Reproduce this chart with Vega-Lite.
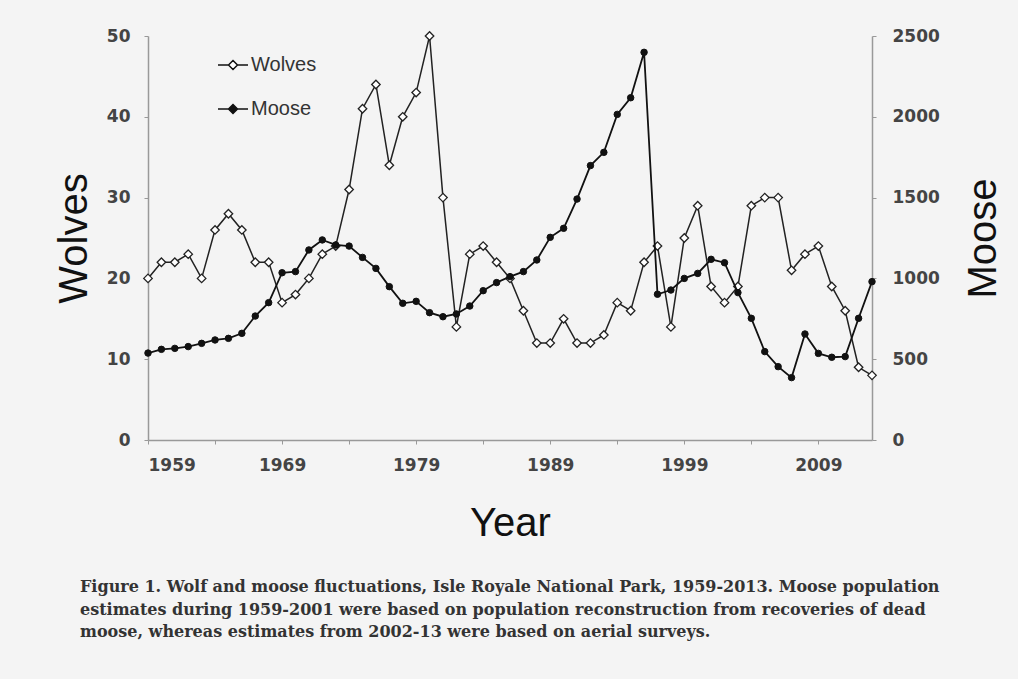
{
  "$schema": "https://vega.github.io/schema/vega-lite/v6.json",
  "autosize": {"type": "none"},
  "width": 724,
  "height": 404,
  "padding": {"left": 148, "top": 36, "right": 146, "bottom": 239},
  "background": "#f4f4f4",
  "config": {
    "view": {"stroke": null},
    "axis": {
      "domainColor": "#999999",
      "domainWidth": 1.5,
      "tickColor": "#999999",
      "tickSize": 4,
      "grid": false,
      "labelFont": "DejaVu Sans",
      "labelFontWeight": "bold",
      "labelFontSize": 17,
      "labelColor": "#444444",
      "titleFont": "Liberation Sans",
      "titleFontWeight": "normal",
      "titleFontSize": 40,
      "titleColor": "#111111"
    }
  },
  "title": {
    "text": [
      "Figure 1. Wolf and moose fluctuations, Isle Royale National Park, 1959-2013. Moose population",
      "estimates during 1959-2001 were based on population reconstruction from recoveries of dead",
      "moose, whereas estimates from 2002-13 were based on aerial surveys."
    ],
    "orient": "bottom",
    "anchor": "start",
    "frame": "group",
    "dx": -68,
    "offset": 36,
    "font": "DejaVu Serif",
    "fontSize": 16,
    "fontWeight": "bold",
    "color": "#333333",
    "lineHeight": 22.5
  },
  "data": {
    "values": [
      {"year": 1959, "wolves": 20, "moose": 538},
      {"year": 1960, "wolves": 22, "moose": 561},
      {"year": 1961, "wolves": 22, "moose": 567},
      {"year": 1962, "wolves": 23, "moose": 578},
      {"year": 1963, "wolves": 20, "moose": 598},
      {"year": 1964, "wolves": 26, "moose": 619},
      {"year": 1965, "wolves": 28, "moose": 629},
      {"year": 1966, "wolves": 26, "moose": 660},
      {"year": 1967, "wolves": 22, "moose": 767},
      {"year": 1968, "wolves": 22, "moose": 850},
      {"year": 1969, "wolves": 17, "moose": 1035},
      {"year": 1970, "wolves": 18, "moose": 1042},
      {"year": 1971, "wolves": 20, "moose": 1176},
      {"year": 1972, "wolves": 23, "moose": 1238},
      {"year": 1973, "wolves": 24, "moose": 1207},
      {"year": 1974, "wolves": 31, "moose": 1200},
      {"year": 1975, "wolves": 41, "moose": 1130},
      {"year": 1976, "wolves": 44, "moose": 1062},
      {"year": 1977, "wolves": 34, "moose": 949},
      {"year": 1978, "wolves": 40, "moose": 846},
      {"year": 1979, "wolves": 43, "moose": 858},
      {"year": 1980, "wolves": 50, "moose": 788},
      {"year": 1981, "wolves": 30, "moose": 763},
      {"year": 1982, "wolves": 14, "moose": 780},
      {"year": 1983, "wolves": 23, "moose": 829},
      {"year": 1984, "wolves": 24, "moose": 924},
      {"year": 1985, "wolves": 22, "moose": 974},
      {"year": 1986, "wolves": 20, "moose": 1011},
      {"year": 1987, "wolves": 16, "moose": 1042},
      {"year": 1988, "wolves": 12, "moose": 1114},
      {"year": 1989, "wolves": 12, "moose": 1254},
      {"year": 1990, "wolves": 15, "moose": 1310},
      {"year": 1991, "wolves": 12, "moose": 1491},
      {"year": 1992, "wolves": 12, "moose": 1698},
      {"year": 1993, "wolves": 13, "moose": 1780},
      {"year": 1994, "wolves": 17, "moose": 2015},
      {"year": 1995, "wolves": 16, "moose": 2118},
      {"year": 1996, "wolves": 22, "moose": 2399},
      {"year": 1997, "wolves": 24, "moose": 902},
      {"year": 1998, "wolves": 14, "moose": 928},
      {"year": 1999, "wolves": 25, "moose": 1000},
      {"year": 2000, "wolves": 29, "moose": 1031},
      {"year": 2001, "wolves": 19, "moose": 1118},
      {"year": 2002, "wolves": 17, "moose": 1097},
      {"year": 2003, "wolves": 19, "moose": 912},
      {"year": 2004, "wolves": 29, "moose": 753},
      {"year": 2005, "wolves": 30, "moose": 547},
      {"year": 2006, "wolves": 30, "moose": 454},
      {"year": 2007, "wolves": 21, "moose": 386},
      {"year": 2008, "wolves": 23, "moose": 656},
      {"year": 2009, "wolves": 24, "moose": 536},
      {"year": 2010, "wolves": 19, "moose": 512},
      {"year": 2011, "wolves": 16, "moose": 516},
      {"year": 2012, "wolves": 9, "moose": 753},
      {"year": 2013, "wolves": 8, "moose": 980}
    ]
  },
  "encoding": {
    "x": {
      "field": "year",
      "type": "quantitative",
      "scale": {"domain": [1959, 2013], "nice": false, "zero": false},
      "axis": {
        "values": [1959, 1964, 1969, 1974, 1979, 1984, 1989, 1994, 1999, 2004, 2009],
        "labelExpr": "(datum.value - 1959) % 10 == 0 ? datum.value + '' : ''",
        "labelPadding": 13,
        "title": "Year",
        "titlePadding": 30
      }
    }
  },
  "layer": [
    {
      "encoding": {
        "y": {
          "field": "wolves",
          "type": "quantitative",
          "scale": {"domain": [0, 50], "nice": false},
          "axis": {
            "orient": "left",
            "values": [0, 10, 20, 30, 40, 50],
            "labelPadding": 14,
            "title": "Wolves",
            "titlePadding": 12
          }
        }
      },
      "layer": [
        {"mark": {"type": "line", "color": "#222222", "strokeWidth": 1.5}},
        {
          "mark": {"type": "point", "shape": "diamond", "size": 72, "stroke": "#222222", "strokeWidth": 1.3, "opacity": 1},
          "encoding": {
            "fill": {
              "datum": "Wolves",
              "scale": {"domain": ["Wolves", "Moose"], "range": ["#ffffff", "#111111"]},
              "legend": {
                "title": null,
                "orient": "none",
                "legendX": 69,
                "legendY": 13,
                "padding": 0,
                "symbolType": "M-1,0L-0.3,0M0.3,0L1,0M0,-0.3L0.3,0L0,0.3L-0.3,0Z",
                "symbolSize": 900,
                "symbolStrokeColor": "#222222",
                "symbolStrokeWidth": 1.5,
                "symbolOpacity": 1,
                "labelFont": "Liberation Sans",
                "labelFontSize": 20,
                "labelColor": "#333333",
                "labelOffset": 2,
                "rowPadding": 18
              }
            }
          }
        }
      ]
    },
    {
      "encoding": {
        "y": {
          "field": "moose",
          "type": "quantitative",
          "scale": {"domain": [0, 2500], "nice": false},
          "axis": {
            "orient": "right",
            "values": [0, 500, 1000, 1500, 2000, 2500],
            "format": "d",
            "labelPadding": 16,
            "title": "Moose",
            "titleAngle": 270,
            "titleBaseline": "top",
            "titlePadding": 24
          }
        }
      },
      "layer": [
        {"mark": {"type": "line", "color": "#111111", "strokeWidth": 1.8}},
        {
          "mark": {"type": "point", "shape": "circle", "size": 42, "stroke": "#111111", "strokeWidth": 1, "opacity": 1},
          "encoding": {
            "fill": {"datum": "Moose"}
          }
        }
      ]
    }
  ],
  "resolve": {"scale": {"y": "independent"}}
}
